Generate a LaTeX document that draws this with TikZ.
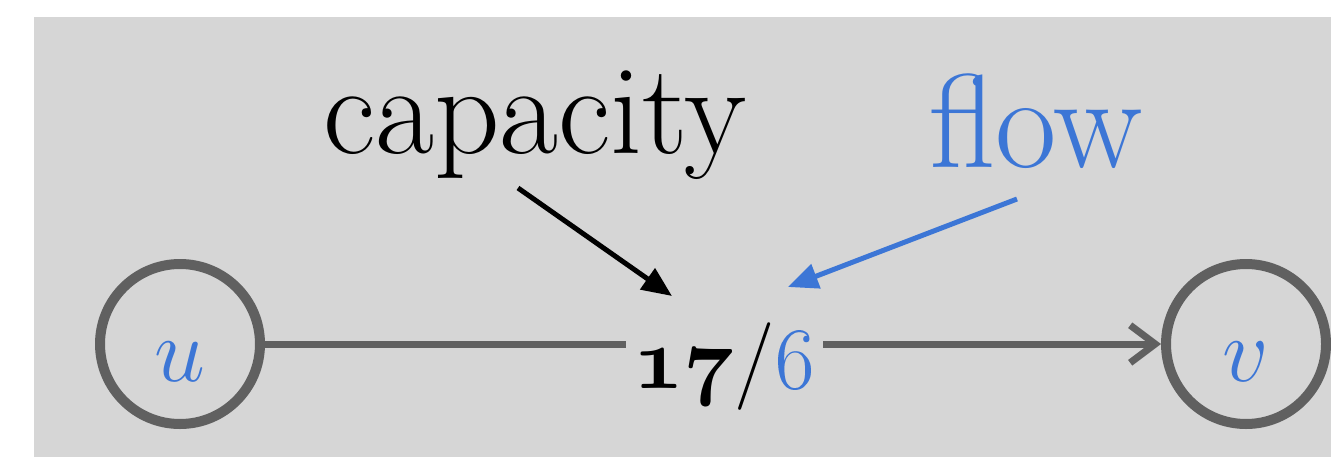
\documentclass[tikz,border=0pt]{standalone}
\usepackage{fix-cm}
\usetikzlibrary{arrows.meta, positioning}
\usepackage{xcolor}
\definecolor{bgGray}{RGB}{214,214,214}
\definecolor{nodeGray}{RGB}{96,96,96}
\definecolor{flowBlue}{RGB}{60,118,214}

\begin{document}
\begin{tikzpicture}[
    vertex/.style={circle, draw=nodeGray, line width=0.2cm, minimum size=3.2cm, inner sep=0pt, text height=1.5cm, text depth=0pt, text=flowBlue, font=\fontsize{52}{60}\selectfont},
    edge/.style={draw=nodeGray, line width=0.14cm, -{Straight Barb[length=0.5cm,width=0.75cm]}},
    weight/.style={fill=bgGray, inner sep=0.15cm, anchor=base, yshift=-0.88cm, font=\fontsize{50}{60}\selectfont},
    pointer/.style={line width=0.1cm, -{Triangle[length=0.6cm,width=0.5cm]}}
]
\useasboundingbox (0,0) rectangle (26.62,9.14);
\fill[bgGray] (0.68,0) rectangle (26.62,8.8);

\node[vertex] (u) at (3.6,2.26) {$u$};
\node[vertex] (v) at (24.92,2.26) {$v$};

\draw[edge] (u) -- (v) node[pos=0.513, weight] (w) {{\usefont{OML}{cmm}{b}{it}17}/\textcolor{flowBlue}{\oldstylenums{6}}};

\node[anchor=base, font=\fontsize{73}{80}\selectfont] (capacity) at (10.7,6.08) {capacity};
\node[anchor=base, text=flowBlue, font=\fontsize{76}{80}\selectfont] (flow) at (20.72,5.8) {flow};

% arrow ends
\coordinate (capstart) at (10.36,5.38);
\coordinate (capend) at (13.44,3.22);
\coordinate (flowstart) at (20.34,5.16);
\coordinate (flowend) at (15.76,3.4);

\draw[pointer] (capstart) -- (capend);
\draw[pointer, flowBlue] (flowstart) -- (flowend);
\end{tikzpicture}
\end{document}
